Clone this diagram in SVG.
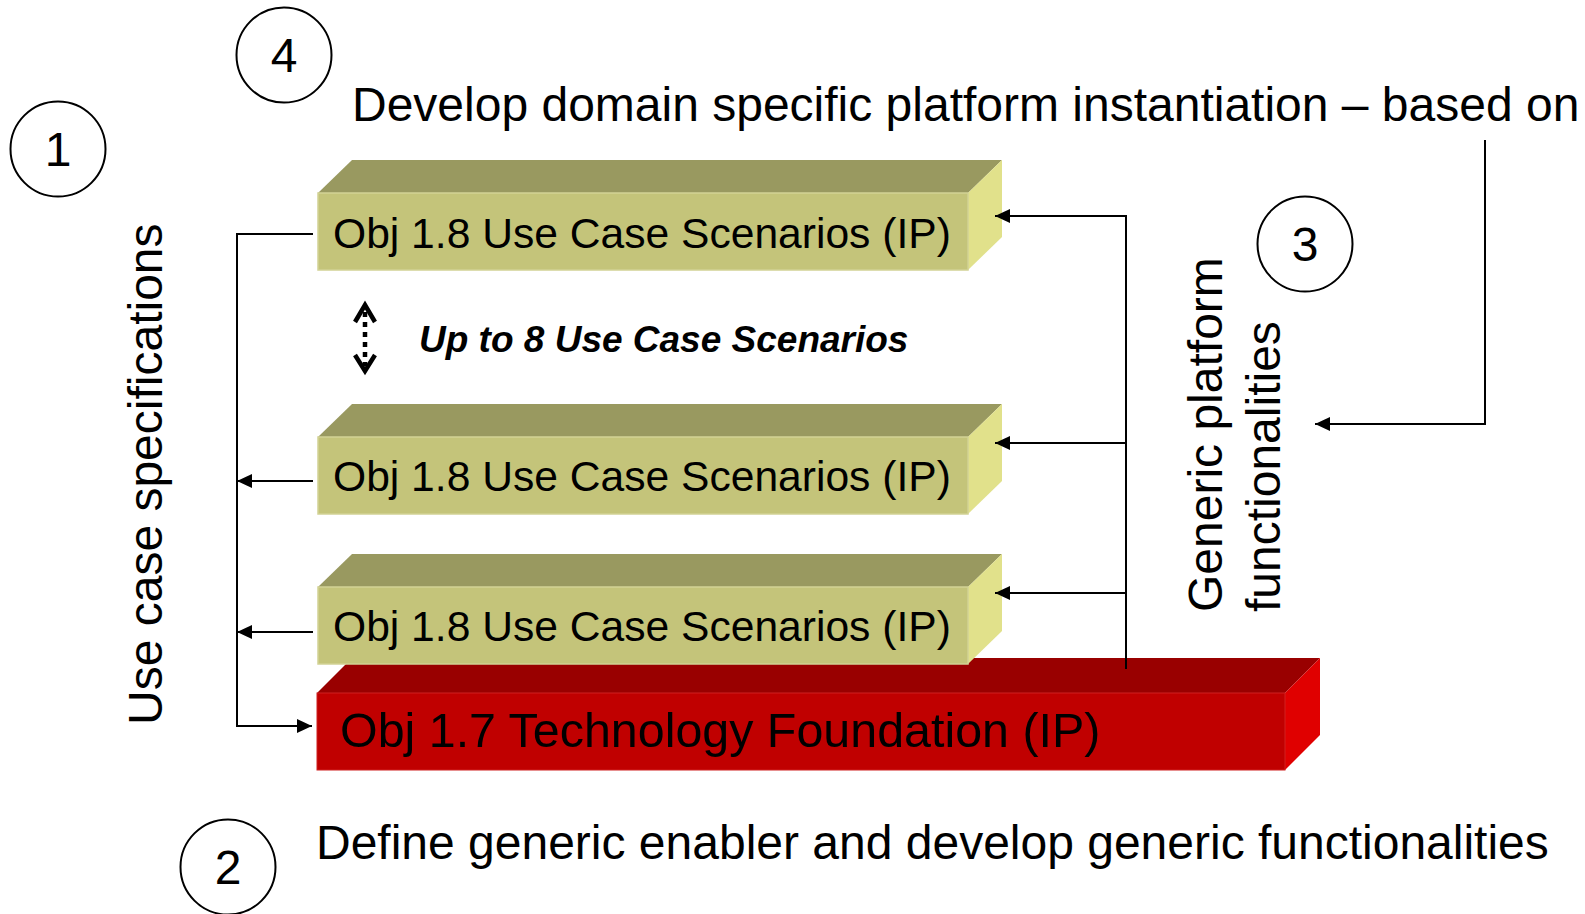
<svg xmlns="http://www.w3.org/2000/svg" width="1585" height="914" viewBox="0 0 1585 914">
<style>
.t{font-family:"Liberation Sans",Arial,sans-serif;fill:#000}
.big{font-size:48px}
.rot{font-size:48px}
.box{font-size:42.6px}
.num{font-size:48px;text-anchor:middle}
.circ{fill:none;stroke:#000;stroke-width:2}
.ln{fill:none;stroke:#000;stroke-width:2}
.otop{fill:#999960}
.ofront{fill:#c4c47a;stroke:#d2d295;stroke-width:1.5}
.oside{fill:#e1e18b}
.rtop{fill:#990000}
.rfront{fill:#c00000;stroke:#d02020;stroke-width:1}
.rside{fill:#e00000}
</style>
<defs>
<marker id="ah" markerUnits="userSpaceOnUse" markerWidth="16" markerHeight="14" refX="15" refY="7" orient="auto">
<path d="M0,0 L15,7 L0,14 Z" fill="#000"/>
</marker>
</defs>
<rect width="1585" height="914" fill="#fff"/>

<g id="node-circle1"><circle class="circ" cx="58" cy="149" r="47.5"/><text class="t num" x="58" y="166">1</text></g>
<g id="node-circle4"><circle class="circ" cx="284" cy="55" r="47.5"/><text class="t num" x="284" y="72">4</text></g>
<g id="node-circle3"><circle class="circ" cx="1305" cy="244" r="47.5"/><text class="t num" x="1305" y="261">3</text></g>
<g id="node-circle2"><circle class="circ" cx="228" cy="867" r="47.5"/><text class="t num" x="228" y="884">2</text></g>

<g id="label-top"><text class="t big" x="352" y="121">Develop domain specific platform instantiation – based on</text></g>
<g id="label-bottom"><text class="t big" x="316" y="859">Define generic enabler and develop generic functionalities</text></g>
<g id="label-left"><text class="t rot" transform="translate(162,725) rotate(-90)">Use case specifications</text></g>
<g id="label-right"><text class="t rot" transform="translate(1222,612) rotate(-90)">Generic platform</text><text class="t rot" transform="translate(1280,612) rotate(-90)">functionalities</text></g>

<g id="node-red">
<polygon class="rtop" points="317,693 352,658 1320,658 1285,693"/>
<polygon class="rside" points="1285,693 1320,658 1320,735 1285,770"/>
<rect class="rfront" x="317" y="693" width="968" height="77"/>
<text class="t" x="340" y="747" style="font-size:48.4px">Obj 1.7 Technology Foundation (IP)</text>
</g>

<g id="node-box3">
<polygon class="otop" points="318,587 352,554 1002,554 968,587"/>
<polygon class="oside" points="968,587 1002,554 1002,631 968,664"/>
<rect class="ofront" x="318" y="587" width="650" height="77"/>
<text class="t box" x="333" y="641">Obj 1.8 Use Case Scenarios (IP)</text>
</g>

<g id="node-box2">
<polygon class="otop" points="318,437 352,404 1002,404 968,437"/>
<polygon class="oside" points="968,437 1002,404 1002,481 968,514"/>
<rect class="ofront" x="318" y="437" width="650" height="77"/>
<text class="t box" x="333" y="491">Obj 1.8 Use Case Scenarios (IP)</text>
</g>

<g id="node-box1">
<polygon class="otop" points="318,193 352,160 1002,160 968,193"/>
<polygon class="oside" points="968,193 1002,160 1002,237 968,270"/>
<rect class="ofront" x="318" y="193" width="650" height="77"/>
<text class="t box" x="333" y="248">Obj 1.8 Use Case Scenarios (IP)</text>
</g>

<g id="label-upto">
<text class="t" x="419" y="352" style="font-size:37px;font-weight:bold;font-style:italic">Up to 8 Use Case Scenarios</text>
</g>

<g id="connectors">
<path class="ln" d="M313,234 H237 V726 H312" marker-end="url(#ah)"/>
<path class="ln" d="M313,481 H237" marker-end="url(#ah)"/>
<path class="ln" d="M313,632 H237" marker-end="url(#ah)"/>
<path class="ln" d="M1126,669 V216 H995" marker-end="url(#ah)"/>
<path class="ln" d="M1126,443 H995" marker-end="url(#ah)"/>
<path class="ln" d="M1126,593 H995" marker-end="url(#ah)"/>
<path class="ln" d="M1485,140 V424 H1315" marker-end="url(#ah)"/>
<g id="double-arrow">
<line x1="365" y1="312" x2="365" y2="366" stroke="#000" stroke-width="4.5" stroke-dasharray="5 5"/>
<polyline points="355,322 365,305 375,322" fill="none" stroke="#000" stroke-width="4.5"/>
<polyline points="355,355 365,371 375,355" fill="none" stroke="#000" stroke-width="4.5"/>
</g>
</g>
</svg>
